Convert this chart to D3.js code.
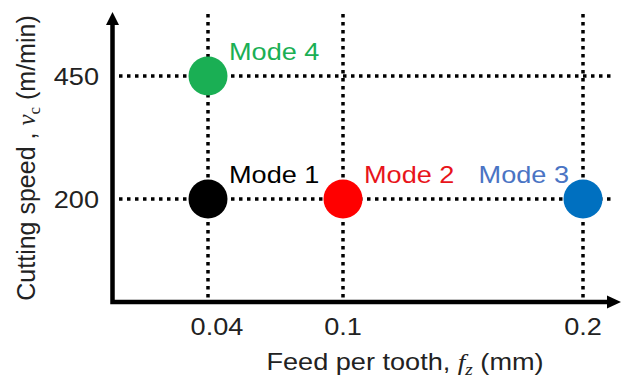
<!DOCTYPE html>
<html>
<head>
<meta charset="utf-8">
<script src="https://cdn.jsdelivr.net/npm/d3@7"></script>
<style>
  body { margin: 0; background: #fff; }
  text { font-family: "Liberation Sans", Arial, sans-serif; }
</style>
</head>
<body>
<div id="chart"></div>
<script>
const modes = ["Mode 1", "Mode 2", "Mode 3", "Mode 4"]
const feeds = [0.04, 0.1, 0.2, 0.04]
const speeds = [200, 200, 200, 450]
const dotColors = ["#000000", "#ff0000", "#0070c0", "#1aaf54"]
const textColors = ["#000000", "#e8141b", "#4a74c4", "#1aaf54"]
const xTicks = [0.04, 0.1, 0.2]
const yTicks = [200, 450]

let width = 621
let height = 384
const fs = 24
const stretch = 1.13   // the picture is a bit wider than tall

const svg = d3.select("#chart")
    .append("svg")
    .attr("width", width)
    .attr("height", height)

// the original axis is not quite linear, so pin it at the tick values
const x = d3.scaleLinear().domain([0, 0.04, 0.1, 0.2]).range([112, 208, 343, 583])
const y = d3.scaleLinear().domain([0, 450]).range([297.5, 76])
const axisY = 302

// horizontal text, stretched a little like the reference
function hText(px, py, anchor) {
    return svg.append("text")
        .attr("transform", `translate(${px},${py}) scale(${stretch},1)`)
        .attr("text-anchor", anchor)
        .attr("font-size", fs)
        .attr("fill", "#222")
}

// dotted guide lines
svg.selectAll(".vgrid")
    .data(xTicks)
    .enter().append("line")
    .attr("x1", d => x(d)).attr("x2", d => x(d))
    .attr("y1", 14).attr("y2", axisY)
    .attr("stroke", "#000")
    .attr("stroke-width", 3.5)
    .attr("stroke-dasharray", "3.5 4.5")

svg.selectAll(".hgrid")
    .data(yTicks)
    .enter().append("line")
    .attr("x1", 119).attr("x2", 611)
    .attr("y1", d => y(d)).attr("y2", d => y(d))
    .attr("stroke", "#000")
    .attr("stroke-width", 3.5)
    .attr("stroke-dasharray", "3.5 4.5")

// axes with arrows
svg.append("path")
    .attr("d", `M112.5,22 V${axisY} H610`)
    .attr("fill", "none")
    .attr("stroke", "#000")
    .attr("stroke-width", 4.5)
svg.append("path")
    .attr("d", "M112.5,12 L106,25 L119,25 Z")
svg.append("path")
    .attr("d", `M621,${axisY} L607,${axisY - 6.5} L607,${axisY + 6.5} Z`)

// tick labels
xTicks.forEach((d, i) => {
    hText(x(d) + (i === 0 ? 9 : 0), 335, "middle").text(d)
})
yTicks.forEach(d => {
    hText(99, y(d) + 8.5, "end").text(d)
})

// axis titles
const xt = hText(405, 370, "middle")
xt.append("tspan").text("Feed per tooth, ")
xt.append("tspan").attr("font-family", "Liberation Serif, serif").attr("font-style", "italic").text("f")
xt.append("tspan").attr("font-family", "Liberation Serif, serif").attr("font-style", "italic")
    .attr("font-size", 17).attr("dy", 5).text("z")
xt.append("tspan").attr("dy", -5).text(" (mm)")

const yt = svg.append("text")
    .attr("transform", "translate(35,158) rotate(-90)")
    .attr("text-anchor", "middle")
    .attr("font-size", 25)
    .attr("fill", "#222")
yt.append("tspan").text("Cutting speed , ")
yt.append("tspan").attr("font-family", "Liberation Serif, serif").attr("font-style", "italic").text("v")
yt.append("tspan").attr("font-family", "Liberation Serif, serif")
    .attr("font-size", 17).attr("dy", 5).text("c")
yt.append("tspan").attr("dy", -5).text(" (m/min)")

// points
svg.selectAll(".mode")
    .data(modes)
    .enter().append("circle")
    .attr("cx", (d, i) => x(feeds[i]))
    .attr("cy", (d, i) => y(speeds[i]))
    .attr("r", 19.5)
    .attr("fill", (d, i) => dotColors[i])

modes.forEach((d, i) => {
    const right = i === 2
    hText(right ? x(feeds[i]) - 14 : x(feeds[i]) + 21, y(speeds[i]) - 16, right ? "end" : "start")
        .attr("fill", textColors[i])
        .text(d)
})
</script>
</body>
</html>
